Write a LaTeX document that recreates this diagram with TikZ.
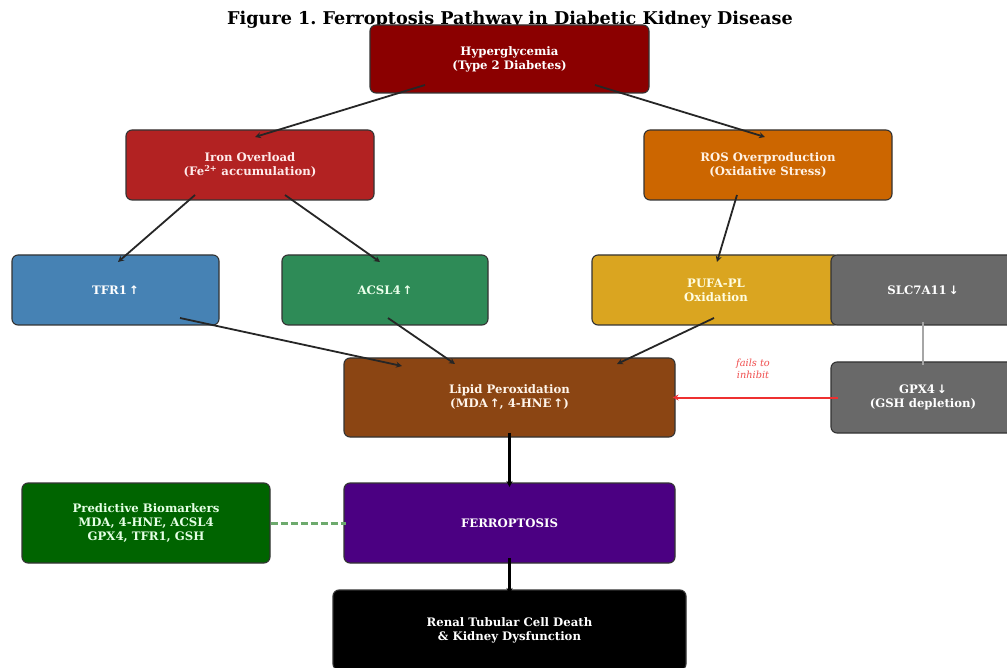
\documentclass[tikz,border=0pt]{standalone}
\usepackage{fontspec}
\setmainfont{DejaVu Serif}
\newfontfamily\arrfont{DejaVu Sans}
\usetikzlibrary{calc,arrows.meta}
\frenchspacing
\definecolor{chyper}{HTML}{8B0000}
\definecolor{ciron}{HTML}{B22222}
\definecolor{cros}{HTML}{CC6600}
\definecolor{ctfr}{HTML}{4682B4}
\definecolor{cacsl}{HTML}{2E8B57}
\definecolor{cpufa}{HTML}{DAA520}
\definecolor{cgray}{HTML}{696969}
\definecolor{clipid}{HTML}{8B4513}
\definecolor{cbio}{HTML}{006400}
\definecolor{cferro}{HTML}{4B0082}
\definecolor{cred}{HTML}{EE3030}
\definecolor{cdash}{HTML}{6DAA6D}
\newcommand{\up}{{\arrfont\,↑}}
\newcommand{\dn}{{\arrfont\,↓}}
\tikzset{
  box/.style={draw=black!80, line width=1.1pt, rounded corners=6pt, align=center,
    font=\fontsize{11.7}{14}\selectfont\bfseries, inner sep=0pt, anchor=center},
  arr/.style={-{Stealth[length=6pt,width=6pt]}, line width=1.8pt, black!85},
}
\begin{document}
\begin{tikzpicture}[x=1pt,y=-1pt]
\useasboundingbox (0,0) rectangle (1007,668);
\clip (0,0) rectangle (1007,668);
\fill[white] (0,0) rectangle (1007,668);
\node[font=\fontsize{17.6}{20}\selectfont\bfseries] (title) at (510,20) {Figure 1. Ferroptosis Pathway in Diabetic Kidney Disease};
\node[box, fill=chyper, text=white, minimum width=279pt, minimum height=68pt] (hyper) at (509.5,59) {Hyperglycemia\\(Type 2 Diabetes)};
\node[box, fill=ciron, text=red!8, minimum width=248pt, minimum height=70pt] (iron) at (250,165) {Iron Overload\\(Fe\textsuperscript{2+} accumulation)};
\node[box, fill=cros, text=orange!10, minimum width=248pt, minimum height=70pt] (ros) at (768,165) {ROS Overproduction\\(Oxidative Stress)};
\node[box, fill=ctfr, text=white, minimum width=207pt, minimum height=70pt] (tfr) at (115.5,290) {TFR1\up};
\node[box, fill=cacsl, text=green!8, minimum width=206pt, minimum height=70pt] (acsl) at (385,290) {ACSL4\up};
\node[box, fill=cpufa, text=yellow!12, minimum width=248pt, minimum height=70pt] (pufa) at (716,290) {PUFA-PL\\Oxidation};
\node[box, fill=cgray, text=white, minimum width=184pt, minimum height=70pt] (slc) at (923,290) {SLC7A11\dn};
\node[box, fill=cgray, text=white, minimum width=184pt, minimum height=71pt] (gpx) at (923,397.5) {GPX4\dn\\(GSH depletion)};
\node[box, fill=clipid, text=orange!8, minimum width=331pt, minimum height=79pt] (lipid) at (509.5,397.5) {Lipid Peroxidation\\(MDA\up, 4-HNE\up)};
\node[box, fill=cbio, text=green!10, minimum width=248pt, minimum height=80pt] (bio) at (146,523) {Predictive Biomarkers\\MDA, 4-HNE, ACSL4\\GPX4, TFR1, GSH};
\node[box, fill=cferro, text=white, minimum width=331pt, minimum height=80pt] (ferro) at (509.5,523) {FERROPTOSIS};
\node[box, fill=black, text=white, minimum width=353pt, minimum height=80pt] (renal) at (509.5,630) {Renal Tubular Cell Death\\\& Kidney Dysfunction};
% connectors
\draw[arr] ($(hyper)+(-84.5,26)$) -- ($(iron)+(5,-28)$);
\draw[arr] ($(hyper)+(85.5,26)$) -- ($(ros)+(-3,-28)$);
\draw[arr] ($(iron)+(-55,30)$) -- ($(tfr)+(2.5,-28)$);
\draw[arr] ($(iron)+(35,30)$) -- ($(acsl)+(-5,-28)$);
\draw[arr] ($(ros)+(-31,30)$) -- ($(pufa)+(1,-28)$);
\draw[arr] ($(tfr)+(64.5,28)$) -- ($(lipid)+(-107.5,-31.5)$);
\draw[arr] ($(acsl)+(3,28)$) -- ($(lipid)+(-54.5,-33.5)$);
\draw[arr] ($(pufa)+(-2,28)$) -- ($(lipid)+(107.5,-33.5)$);
\draw[arr, line width=2.3pt, black] ($(lipid)+(0,35)$) -- ($(ferro)+(0,-36)$);
\draw[arr, line width=2.3pt, black] ($(ferro)+(0,35)$) -- ($(renal)+(0,-36)$);
\draw[line width=1.6pt, black!35] ($(slc)+(0,32)$) -- ($(gpx)+(0,-32)$);
\draw[-{Stealth[length=6pt,width=6pt]}, line width=2pt, cred] ($(gpx.west)+(8,0)$) -- ($(lipid.east)+(-3,0)$);
\node[font=\fontsize{9.8}{12}\selectfont\itshape, text=cred!85, align=center] (fails) at (753,369) {fails to\\inhibit};
\draw[dash pattern=on 7pt off 3pt, line width=3pt, cdash] (bio.east) -- ($(ferro.west)+(3,0)$);
\end{tikzpicture}
\end{document}
